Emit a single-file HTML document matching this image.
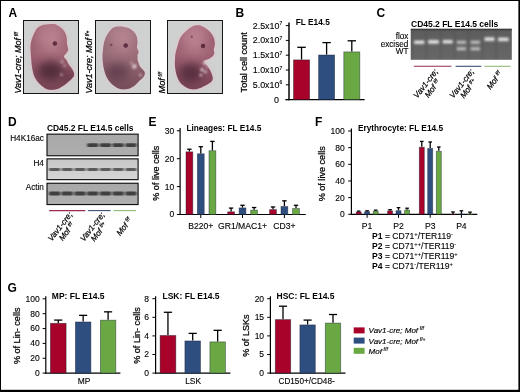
<!DOCTYPE html>
<html><head><meta charset="utf-8"><style>
html,body{margin:0;padding:0;background:#fff;overflow:hidden;width:520px;height:392px;}
svg{display:block;font-family:"Liberation Sans",sans-serif;will-change:transform;}
</style></head><body>
<svg width="520" height="392" viewBox="0 0 520 392" font-family="Liberation Sans, sans-serif"><defs>
<filter id="b1" x="-20%" y="-20%" width="140%" height="140%"><feGaussianBlur stdDeviation="0.9"/></filter>
<filter id="b3" x="-50%" y="-50%" width="200%" height="200%"><feGaussianBlur stdDeviation="4"/></filter>
<filter id="b08" x="-100%" y="-100%" width="300%" height="300%"><feGaussianBlur stdDeviation="0.8"/></filter>
<filter id="b05" x="-100%" y="-100%" width="300%" height="300%"><feGaussianBlur stdDeviation="0.5"/></filter>
<filter id="gelb" x="-30%" y="-200%" width="160%" height="500%"><feGaussianBlur stdDeviation="1.0 0.85"/></filter>
<filter id="band" x="-30%" y="-200%" width="160%" height="500%"><feGaussianBlur stdDeviation="0.8 0.75"/></filter>
<radialGradient id="embg0" cx="0.5" cy="0.28" r="0.8"><stop offset="0" stop-color="#b07884"/><stop offset="0.55" stop-color="#a06474"/><stop offset="1" stop-color="#8c5464"/></radialGradient>
<radialGradient id="embg1" cx="0.5" cy="0.28" r="0.8"><stop offset="0" stop-color="#a87a86"/><stop offset="0.55" stop-color="#9a6e78"/><stop offset="1" stop-color="#8c606e"/></radialGradient>
<radialGradient id="embg2" cx="0.5" cy="0.28" r="0.8"><stop offset="0" stop-color="#b07686"/><stop offset="0.55" stop-color="#a06474"/><stop offset="1" stop-color="#8e5466"/></radialGradient>
<linearGradient id="embshade" gradientUnits="userSpaceOnUse" x1="0" y1="0" x2="0" y2="73"><stop offset="0" stop-color="#ffd8e0" stop-opacity="0.12"/><stop offset="0.42" stop-color="#5a2038" stop-opacity="0"/><stop offset="1" stop-color="#4a2632" stop-opacity="0.4"/></linearGradient>
<linearGradient id="gel" x1="0" y1="0" x2="0" y2="1"><stop offset="0" stop-color="#555"/><stop offset="0.12" stop-color="#5e5e5e"/><stop offset="1" stop-color="#676767"/></linearGradient>
<linearGradient id="bl1" x1="0" y1="0" x2="0" y2="1"><stop offset="0" stop-color="#a9a9a9"/><stop offset="1" stop-color="#adadad"/></linearGradient>
<linearGradient id="bl2" x1="0" y1="0" x2="0" y2="1"><stop offset="0" stop-color="#c6c6c6"/><stop offset="1" stop-color="#d6d6d6"/></linearGradient>
<linearGradient id="bl3" x1="0" y1="0" x2="0" y2="1"><stop offset="0" stop-color="#a8a8a8"/><stop offset="1" stop-color="#b0b0b0"/></linearGradient>
</defs>
<rect x="0" y="0" width="520" height="1" fill="#000"/>
<rect x="0" y="0" width="1" height="392" fill="#000"/>
<rect x="518.4" y="0" width="1.6" height="392" fill="#000"/>
<rect x="0" y="389.8" width="520" height="2.2" fill="#000"/>
<text x="8.4" y="16.6" font-size="12" font-weight="bold" text-anchor="start" fill="#000">A</text>
<text x="235.6" y="16.6" font-size="12" font-weight="bold" text-anchor="start" fill="#000">B</text>
<text x="376.4" y="16.6" font-size="12" font-weight="bold" text-anchor="start" fill="#000">C</text>
<text x="8.1" y="125.8" font-size="12" font-weight="bold" text-anchor="start" fill="#000">D</text>
<text x="148.4" y="125.8" font-size="12" font-weight="bold" text-anchor="start" fill="#000">E</text>
<text x="315.1" y="125.8" font-size="12" font-weight="bold" text-anchor="start" fill="#000">F</text>
<text x="7.5" y="292" font-size="12" font-weight="bold" text-anchor="start" fill="#000">G</text>
<g transform="translate(23 20)">
<rect x="0.5" y="0.5" width="55" height="73" fill="#cfd0d0" stroke="#161616" stroke-width="1.0"/>
<g transform="translate(0.5 0.5) scale(1.0000 1.0069)">
<path d="M22.00,4.00 C24.33,3.68 28.38,3.02 31.00,3.60 C33.62,4.18 35.95,6.13 37.70,7.50 C39.45,8.87 40.58,10.18 41.50,11.80 C42.42,13.42 42.85,15.22 43.20,17.20 C43.55,19.18 43.35,21.73 43.60,23.70 C43.85,25.67 44.80,27.57 44.70,29.00 C44.60,30.43 43.62,31.38 43.00,32.30 C42.38,33.22 41.40,33.80 41.00,34.50 C40.60,35.20 40.27,35.72 40.60,36.50 C40.93,37.28 42.23,38.03 43.00,39.20 C43.77,40.37 44.20,41.88 45.20,43.50 C46.20,45.12 48.10,47.10 49.00,48.90 C49.90,50.70 51.05,52.50 50.60,54.30 C50.15,56.10 47.90,58.08 46.30,59.70 C44.70,61.32 42.97,62.65 41.00,64.00 C39.03,65.35 36.67,67.00 34.50,67.80 C32.33,68.60 30.17,68.90 28.00,68.80 C25.83,68.70 23.65,68.37 21.50,67.20 C19.35,66.03 16.88,63.77 15.10,61.80 C13.32,59.83 11.88,57.90 10.80,55.40 C9.72,52.90 9.13,49.93 8.60,46.80 C8.07,43.67 7.87,39.73 7.60,36.60 C7.33,33.47 7.02,30.52 7.00,28.00 C6.98,25.48 7.05,23.67 7.50,21.50 C7.95,19.33 8.80,17.15 9.70,15.00 C10.60,12.85 11.68,10.18 12.90,8.60 C14.12,7.02 15.48,6.27 17.00,5.50 C18.52,4.73 19.67,4.32 22.00,4.00 Z" fill="none" stroke="#dcc2c8" stroke-width="2.4" filter="url(#b1)"/>
<path d="M22.00,4.00 C24.33,3.68 28.38,3.02 31.00,3.60 C33.62,4.18 35.95,6.13 37.70,7.50 C39.45,8.87 40.58,10.18 41.50,11.80 C42.42,13.42 42.85,15.22 43.20,17.20 C43.55,19.18 43.35,21.73 43.60,23.70 C43.85,25.67 44.80,27.57 44.70,29.00 C44.60,30.43 43.62,31.38 43.00,32.30 C42.38,33.22 41.40,33.80 41.00,34.50 C40.60,35.20 40.27,35.72 40.60,36.50 C40.93,37.28 42.23,38.03 43.00,39.20 C43.77,40.37 44.20,41.88 45.20,43.50 C46.20,45.12 48.10,47.10 49.00,48.90 C49.90,50.70 51.05,52.50 50.60,54.30 C50.15,56.10 47.90,58.08 46.30,59.70 C44.70,61.32 42.97,62.65 41.00,64.00 C39.03,65.35 36.67,67.00 34.50,67.80 C32.33,68.60 30.17,68.90 28.00,68.80 C25.83,68.70 23.65,68.37 21.50,67.20 C19.35,66.03 16.88,63.77 15.10,61.80 C13.32,59.83 11.88,57.90 10.80,55.40 C9.72,52.90 9.13,49.93 8.60,46.80 C8.07,43.67 7.87,39.73 7.60,36.60 C7.33,33.47 7.02,30.52 7.00,28.00 C6.98,25.48 7.05,23.67 7.50,21.50 C7.95,19.33 8.80,17.15 9.70,15.00 C10.60,12.85 11.68,10.18 12.90,8.60 C14.12,7.02 15.48,6.27 17.00,5.50 C18.52,4.73 19.67,4.32 22.00,4.00 Z" fill="url(#embg0)"/>
<clipPath id="ec0"><path d="M22.00,4.00 C24.33,3.68 28.38,3.02 31.00,3.60 C33.62,4.18 35.95,6.13 37.70,7.50 C39.45,8.87 40.58,10.18 41.50,11.80 C42.42,13.42 42.85,15.22 43.20,17.20 C43.55,19.18 43.35,21.73 43.60,23.70 C43.85,25.67 44.80,27.57 44.70,29.00 C44.60,30.43 43.62,31.38 43.00,32.30 C42.38,33.22 41.40,33.80 41.00,34.50 C40.60,35.20 40.27,35.72 40.60,36.50 C40.93,37.28 42.23,38.03 43.00,39.20 C43.77,40.37 44.20,41.88 45.20,43.50 C46.20,45.12 48.10,47.10 49.00,48.90 C49.90,50.70 51.05,52.50 50.60,54.30 C50.15,56.10 47.90,58.08 46.30,59.70 C44.70,61.32 42.97,62.65 41.00,64.00 C39.03,65.35 36.67,67.00 34.50,67.80 C32.33,68.60 30.17,68.90 28.00,68.80 C25.83,68.70 23.65,68.37 21.50,67.20 C19.35,66.03 16.88,63.77 15.10,61.80 C13.32,59.83 11.88,57.90 10.80,55.40 C9.72,52.90 9.13,49.93 8.60,46.80 C8.07,43.67 7.87,39.73 7.60,36.60 C7.33,33.47 7.02,30.52 7.00,28.00 C6.98,25.48 7.05,23.67 7.50,21.50 C7.95,19.33 8.80,17.15 9.70,15.00 C10.60,12.85 11.68,10.18 12.90,8.60 C14.12,7.02 15.48,6.27 17.00,5.50 C18.52,4.73 19.67,4.32 22.00,4.00 Z"/></clipPath>
<g clip-path="url(#ec0)">
<rect x="0" y="0" width="56" height="73" fill="url(#embshade)"/>
<ellipse cx="27" cy="50" rx="13" ry="10" fill="#4a2634" opacity="0.85" filter="url(#b3)"/>
<ellipse cx="44" cy="56" rx="5" ry="5" fill="#4a2634" opacity="0.6" filter="url(#b3)"/>
<ellipse cx="26" cy="17" rx="13" ry="10" fill="#d8a0b0" opacity="0.28" filter="url(#b3)"/>
<circle cx="38.5" cy="41" r="1.6" fill="#f2e2e6" opacity="0.5" filter="url(#b08)"/>
<circle cx="38" cy="53.8" r="1.2" fill="#f2e2e6" opacity="0.7" filter="url(#b08)"/>
<circle cx="41" cy="45" r="1.5" fill="#f2e2e6" opacity="0.4" filter="url(#b08)"/>
</g>
<circle cx="31.4" cy="22.8" r="2.2" fill="#4a1a2e" opacity="0.8" filter="url(#b05)"/>
</g></g>
<g transform="translate(95 20)">
<rect x="0.5" y="0.5" width="55" height="73" fill="#cfd0d0" stroke="#161616" stroke-width="1.0"/>
<g transform="translate(0.5 0.5) scale(1.0000 1.0069)">
<path d="M23.70,5.90 C26.03,5.82 28.95,6.28 31.20,7.00 C33.45,7.72 35.58,8.85 37.20,10.20 C38.82,11.55 40.10,13.22 40.90,15.10 C41.70,16.98 41.90,19.53 42.00,21.50 C42.10,23.47 41.32,25.28 41.50,26.90 C41.68,28.52 43.02,29.93 43.10,31.20 C43.18,32.47 42.15,33.62 42.00,34.50 C41.85,35.38 42.20,35.88 42.20,36.50 C42.20,37.12 41.85,37.20 42.00,38.20 C42.15,39.20 42.57,41.07 43.10,42.50 C43.63,43.93 44.22,45.38 45.20,46.80 C46.18,48.22 48.45,49.57 49.00,51.00 C49.55,52.43 49.30,53.95 48.50,55.40 C47.70,56.85 45.65,58.27 44.20,59.70 C42.75,61.13 41.42,62.75 39.80,64.00 C38.18,65.25 36.47,66.48 34.50,67.20 C32.53,67.92 30.17,68.38 28.00,68.30 C25.83,68.22 23.65,67.78 21.50,66.70 C19.35,65.62 16.88,63.68 15.10,61.80 C13.32,59.92 11.97,57.90 10.80,55.40 C9.63,52.90 8.73,49.93 8.10,46.80 C7.47,43.67 7.10,39.57 7.00,36.60 C6.90,33.63 7.23,31.52 7.50,29.00 C7.77,26.48 7.88,24.00 8.60,21.50 C9.32,19.00 10.37,16.33 11.80,14.00 C13.23,11.67 15.22,8.85 17.20,7.50 C19.18,6.15 21.37,5.98 23.70,5.90 Z" fill="none" stroke="#dccad0" stroke-width="2.4" filter="url(#b1)"/>
<path d="M23.70,5.90 C26.03,5.82 28.95,6.28 31.20,7.00 C33.45,7.72 35.58,8.85 37.20,10.20 C38.82,11.55 40.10,13.22 40.90,15.10 C41.70,16.98 41.90,19.53 42.00,21.50 C42.10,23.47 41.32,25.28 41.50,26.90 C41.68,28.52 43.02,29.93 43.10,31.20 C43.18,32.47 42.15,33.62 42.00,34.50 C41.85,35.38 42.20,35.88 42.20,36.50 C42.20,37.12 41.85,37.20 42.00,38.20 C42.15,39.20 42.57,41.07 43.10,42.50 C43.63,43.93 44.22,45.38 45.20,46.80 C46.18,48.22 48.45,49.57 49.00,51.00 C49.55,52.43 49.30,53.95 48.50,55.40 C47.70,56.85 45.65,58.27 44.20,59.70 C42.75,61.13 41.42,62.75 39.80,64.00 C38.18,65.25 36.47,66.48 34.50,67.20 C32.53,67.92 30.17,68.38 28.00,68.30 C25.83,68.22 23.65,67.78 21.50,66.70 C19.35,65.62 16.88,63.68 15.10,61.80 C13.32,59.92 11.97,57.90 10.80,55.40 C9.63,52.90 8.73,49.93 8.10,46.80 C7.47,43.67 7.10,39.57 7.00,36.60 C6.90,33.63 7.23,31.52 7.50,29.00 C7.77,26.48 7.88,24.00 8.60,21.50 C9.32,19.00 10.37,16.33 11.80,14.00 C13.23,11.67 15.22,8.85 17.20,7.50 C19.18,6.15 21.37,5.98 23.70,5.90 Z" fill="url(#embg1)"/>
<clipPath id="ec1"><path d="M23.70,5.90 C26.03,5.82 28.95,6.28 31.20,7.00 C33.45,7.72 35.58,8.85 37.20,10.20 C38.82,11.55 40.10,13.22 40.90,15.10 C41.70,16.98 41.90,19.53 42.00,21.50 C42.10,23.47 41.32,25.28 41.50,26.90 C41.68,28.52 43.02,29.93 43.10,31.20 C43.18,32.47 42.15,33.62 42.00,34.50 C41.85,35.38 42.20,35.88 42.20,36.50 C42.20,37.12 41.85,37.20 42.00,38.20 C42.15,39.20 42.57,41.07 43.10,42.50 C43.63,43.93 44.22,45.38 45.20,46.80 C46.18,48.22 48.45,49.57 49.00,51.00 C49.55,52.43 49.30,53.95 48.50,55.40 C47.70,56.85 45.65,58.27 44.20,59.70 C42.75,61.13 41.42,62.75 39.80,64.00 C38.18,65.25 36.47,66.48 34.50,67.20 C32.53,67.92 30.17,68.38 28.00,68.30 C25.83,68.22 23.65,67.78 21.50,66.70 C19.35,65.62 16.88,63.68 15.10,61.80 C13.32,59.92 11.97,57.90 10.80,55.40 C9.63,52.90 8.73,49.93 8.10,46.80 C7.47,43.67 7.10,39.57 7.00,36.60 C6.90,33.63 7.23,31.52 7.50,29.00 C7.77,26.48 7.88,24.00 8.60,21.50 C9.32,19.00 10.37,16.33 11.80,14.00 C13.23,11.67 15.22,8.85 17.20,7.50 C19.18,6.15 21.37,5.98 23.70,5.90 Z"/></clipPath>
<g clip-path="url(#ec1)">
<rect x="0" y="0" width="56" height="73" fill="url(#embshade)"/>
<ellipse cx="22" cy="51" rx="12" ry="9" fill="#58384a" opacity="0.7" filter="url(#b3)"/>
<ellipse cx="26" cy="17" rx="13" ry="10" fill="#d8a0b0" opacity="0.28" filter="url(#b3)"/>
<circle cx="38.8" cy="45.7" r="2.4" fill="#f2e2e6" opacity="0.7" filter="url(#b08)"/>
<circle cx="45" cy="54.3" r="1.6" fill="#f2e2e6" opacity="0.5" filter="url(#b08)"/>
<circle cx="36" cy="42" r="1.5" fill="#f2e2e6" opacity="0.4" filter="url(#b08)"/>
</g>
<circle cx="30.2" cy="24.8" r="2.2" fill="#4a1a2e" opacity="0.8" filter="url(#b05)"/>
<circle cx="15.6" cy="24.2" r="1.4" fill="#4a1a2e" opacity="0.45" filter="url(#b05)"/>
</g></g>
<g transform="translate(167 20)">
<rect x="0.5" y="0.5" width="55" height="73" fill="#cfd0d0" stroke="#161616" stroke-width="1.0"/>
<g transform="translate(0.5 0.5) scale(1.0000 1.0069)">
<path d="M24.80,5.90 C26.95,4.90 29.05,4.53 31.20,4.80 C33.35,5.07 35.72,6.33 37.70,7.50 C39.68,8.67 41.67,10.18 43.10,11.80 C44.53,13.42 45.58,15.22 46.30,17.20 C47.02,19.18 47.40,21.73 47.40,23.70 C47.40,25.67 46.40,27.57 46.30,29.00 C46.20,30.43 46.98,31.22 46.80,32.30 C46.62,33.38 46.17,34.50 45.20,35.50 C44.23,36.50 42.45,37.45 41.00,38.30 C39.55,39.15 36.67,39.45 36.50,40.60 C36.33,41.75 38.82,43.38 40.00,45.20 C41.18,47.02 42.73,49.27 43.60,51.50 C44.47,53.73 45.65,56.70 45.20,58.60 C44.75,60.50 42.68,61.63 40.90,62.90 C39.12,64.17 36.83,65.30 34.50,66.20 C32.17,67.10 29.42,68.22 26.90,68.30 C24.38,68.38 21.73,67.78 19.40,66.70 C17.07,65.62 14.60,63.87 12.90,61.80 C11.20,59.73 10.10,56.98 9.20,54.30 C8.30,51.62 7.78,48.38 7.50,45.70 C7.22,43.02 7.40,40.43 7.50,38.20 C7.60,35.97 7.65,34.53 8.10,32.30 C8.55,30.07 9.40,27.32 10.20,24.80 C11.00,22.28 11.55,19.53 12.90,17.20 C14.25,14.87 16.32,12.68 18.30,10.80 C20.28,8.92 22.65,6.90 24.80,5.90 Z" fill="none" stroke="#e0c6ce" stroke-width="2.4" filter="url(#b1)"/>
<path d="M24.80,5.90 C26.95,4.90 29.05,4.53 31.20,4.80 C33.35,5.07 35.72,6.33 37.70,7.50 C39.68,8.67 41.67,10.18 43.10,11.80 C44.53,13.42 45.58,15.22 46.30,17.20 C47.02,19.18 47.40,21.73 47.40,23.70 C47.40,25.67 46.40,27.57 46.30,29.00 C46.20,30.43 46.98,31.22 46.80,32.30 C46.62,33.38 46.17,34.50 45.20,35.50 C44.23,36.50 42.45,37.45 41.00,38.30 C39.55,39.15 36.67,39.45 36.50,40.60 C36.33,41.75 38.82,43.38 40.00,45.20 C41.18,47.02 42.73,49.27 43.60,51.50 C44.47,53.73 45.65,56.70 45.20,58.60 C44.75,60.50 42.68,61.63 40.90,62.90 C39.12,64.17 36.83,65.30 34.50,66.20 C32.17,67.10 29.42,68.22 26.90,68.30 C24.38,68.38 21.73,67.78 19.40,66.70 C17.07,65.62 14.60,63.87 12.90,61.80 C11.20,59.73 10.10,56.98 9.20,54.30 C8.30,51.62 7.78,48.38 7.50,45.70 C7.22,43.02 7.40,40.43 7.50,38.20 C7.60,35.97 7.65,34.53 8.10,32.30 C8.55,30.07 9.40,27.32 10.20,24.80 C11.00,22.28 11.55,19.53 12.90,17.20 C14.25,14.87 16.32,12.68 18.30,10.80 C20.28,8.92 22.65,6.90 24.80,5.90 Z" fill="url(#embg2)"/>
<clipPath id="ec2"><path d="M24.80,5.90 C26.95,4.90 29.05,4.53 31.20,4.80 C33.35,5.07 35.72,6.33 37.70,7.50 C39.68,8.67 41.67,10.18 43.10,11.80 C44.53,13.42 45.58,15.22 46.30,17.20 C47.02,19.18 47.40,21.73 47.40,23.70 C47.40,25.67 46.40,27.57 46.30,29.00 C46.20,30.43 46.98,31.22 46.80,32.30 C46.62,33.38 46.17,34.50 45.20,35.50 C44.23,36.50 42.45,37.45 41.00,38.30 C39.55,39.15 36.67,39.45 36.50,40.60 C36.33,41.75 38.82,43.38 40.00,45.20 C41.18,47.02 42.73,49.27 43.60,51.50 C44.47,53.73 45.65,56.70 45.20,58.60 C44.75,60.50 42.68,61.63 40.90,62.90 C39.12,64.17 36.83,65.30 34.50,66.20 C32.17,67.10 29.42,68.22 26.90,68.30 C24.38,68.38 21.73,67.78 19.40,66.70 C17.07,65.62 14.60,63.87 12.90,61.80 C11.20,59.73 10.10,56.98 9.20,54.30 C8.30,51.62 7.78,48.38 7.50,45.70 C7.22,43.02 7.40,40.43 7.50,38.20 C7.60,35.97 7.65,34.53 8.10,32.30 C8.55,30.07 9.40,27.32 10.20,24.80 C11.00,22.28 11.55,19.53 12.90,17.20 C14.25,14.87 16.32,12.68 18.30,10.80 C20.28,8.92 22.65,6.90 24.80,5.90 Z"/></clipPath>
<g clip-path="url(#ec2)">
<rect x="0" y="0" width="56" height="73" fill="url(#embshade)"/>
<ellipse cx="23.5" cy="52" rx="12" ry="10" fill="#4e2838" opacity="0.8" filter="url(#b3)"/>
<ellipse cx="26" cy="17" rx="13" ry="10" fill="#d8a0b0" opacity="0.28" filter="url(#b3)"/>
<circle cx="34.5" cy="48.9" r="1.7" fill="#f2e2e6" opacity="0.85" filter="url(#b08)"/>
<circle cx="33.4" cy="54.3" r="1.4" fill="#f2e2e6" opacity="0.75" filter="url(#b08)"/>
<circle cx="37.7" cy="51" r="1.5" fill="#f2e2e6" opacity="0.75" filter="url(#b08)"/>
<circle cx="37.5" cy="42.2" r="2.0" fill="#f2e2e6" opacity="0.8" filter="url(#b08)"/>
<circle cx="40" cy="46" r="1.4" fill="#f2e2e6" opacity="0.6" filter="url(#b08)"/>
</g>
<circle cx="35.5" cy="25.3" r="2.2" fill="#4a1a2e" opacity="0.8" filter="url(#b05)"/>
<circle cx="24.2" cy="16.2" r="1.2" fill="#4a1a2e" opacity="0.45" filter="url(#b05)"/>
</g></g>
<text x="20.8" y="93.6" font-size="9" font-style="italic" text-anchor="start" fill="#000" transform="rotate(-90 20.8 93.6)" stroke="#000" stroke-width="0.25">Vav1-cre; Mof<tspan font-size="6"> </tspan><tspan baseline-shift="3.2" font-size="4.8">f/f</tspan></text>
<text x="92.0" y="93.6" font-size="9" font-style="italic" text-anchor="start" fill="#000" transform="rotate(-90 92.0 93.6)" stroke="#000" stroke-width="0.25">Vav1-cre; Mof<tspan font-size="6"> </tspan><tspan baseline-shift="3.2" font-size="4.8">f/+</tspan></text>
<text x="165.0" y="93.6" font-size="9.3" font-style="italic" text-anchor="start" fill="#000" transform="rotate(-90 165.0 93.6)" stroke="#000" stroke-width="0.25">Mof<tspan font-size="6"> </tspan><tspan baseline-shift="3.2" font-size="5.2">f/f</tspan></text>
<line x1="289.0" y1="22.599999999999994" x2="289.0" y2="100.19999999999999" stroke="#000" stroke-width="1.45"/>
<line x1="285.8" y1="99.6" x2="289.0" y2="99.6" stroke="#000" stroke-width="1.0"/>
<line x1="285.8" y1="84.8" x2="289.0" y2="84.8" stroke="#000" stroke-width="1.0"/>
<line x1="285.8" y1="70.0" x2="289.0" y2="70.0" stroke="#000" stroke-width="1.0"/>
<line x1="285.8" y1="55.19999999999999" x2="289.0" y2="55.19999999999999" stroke="#000" stroke-width="1.0"/>
<line x1="285.8" y1="40.39999999999999" x2="289.0" y2="40.39999999999999" stroke="#000" stroke-width="1.0"/>
<line x1="285.8" y1="25.599999999999994" x2="289.0" y2="25.599999999999994" stroke="#000" stroke-width="1.0"/>
<text x="279.0" y="102.6" font-size="8.9" text-anchor="end" fill="#000" stroke="#000" stroke-width="0.12">0</text>
<text x="279.4" y="87.8" font-size="8.9" text-anchor="end" fill="#000" stroke="#000" stroke-width="0.12">5.0x10</text>
<text x="279.6" y="84.3" font-size="5.0" text-anchor="start" fill="#000" stroke="#000" stroke-width="0.12">6</text>
<text x="279.4" y="73.0" font-size="8.9" text-anchor="end" fill="#000" stroke="#000" stroke-width="0.12">1.0x10</text>
<text x="279.6" y="69.5" font-size="5.0" text-anchor="start" fill="#000" stroke="#000" stroke-width="0.12">7</text>
<text x="279.4" y="58.2" font-size="8.9" text-anchor="end" fill="#000" stroke="#000" stroke-width="0.12">1.5x10</text>
<text x="279.6" y="54.7" font-size="5.0" text-anchor="start" fill="#000" stroke="#000" stroke-width="0.12">7</text>
<text x="279.4" y="43.4" font-size="8.9" text-anchor="end" fill="#000" stroke="#000" stroke-width="0.12">2.0x10</text>
<text x="279.6" y="39.9" font-size="5.0" text-anchor="start" fill="#000" stroke="#000" stroke-width="0.12">7</text>
<text x="279.4" y="28.6" font-size="8.9" text-anchor="end" fill="#000" stroke="#000" stroke-width="0.12">2.5x10</text>
<text x="279.6" y="25.1" font-size="5.0" text-anchor="start" fill="#000" stroke="#000" stroke-width="0.12">7</text>
<line x1="285.4" y1="99.6" x2="364.6" y2="99.6" stroke="#000" stroke-width="1.45"/>
<rect x="293.50" y="59.90" width="16.10" height="39.70" fill="#a8022b" stroke="#101828" stroke-opacity="0.5" stroke-width="0.8"/>
<line x1="301.55" y1="59.5" x2="301.55" y2="47.3" stroke="#000" stroke-width="1.3"/>
<line x1="297.32500000000005" y1="47.3" x2="305.775" y2="47.3" stroke="#000" stroke-width="1.3"/>
<rect x="318.60" y="55.00" width="16.00" height="44.60" fill="#2f4e80" stroke="#101828" stroke-opacity="0.5" stroke-width="0.8"/>
<line x1="326.6" y1="54.6" x2="326.6" y2="42.6" stroke="#000" stroke-width="1.3"/>
<line x1="322.40000000000003" y1="42.6" x2="330.8" y2="42.6" stroke="#000" stroke-width="1.3"/>
<rect x="343.80" y="51.90" width="16.00" height="47.70" fill="#6aa844" stroke="#101828" stroke-opacity="0.5" stroke-width="0.8"/>
<line x1="351.79999999999995" y1="51.5" x2="351.79999999999995" y2="40.8" stroke="#000" stroke-width="1.3"/>
<line x1="347.59999999999997" y1="40.8" x2="355.99999999999994" y2="40.8" stroke="#000" stroke-width="1.3"/>
<text x="295.8" y="25.2" font-size="8.3" font-weight="bold" text-anchor="start" fill="#000">FL E14.5</text>
<text x="247.4" y="62.3" font-size="9.1" text-anchor="middle" fill="#000" transform="rotate(-90 247.4 62.3)" stroke="#000" stroke-width="0.25">Total cell count</text>
<text x="411.0" y="26.7" font-size="8.5" font-weight="bold" text-anchor="start" fill="#000">CD45.2 FL E14.5 cells</text>
<rect x="410.8" y="28.8" width="101" height="31" fill="url(#gel)"/>
<rect x="410.8" y="28.8" width="101" height="1.4" fill="#3c3c3c"/>
<g filter="url(#band)" opacity="0.5">
<rect x="411.6" y="30.4" width="1.2" height="29" fill="#4e4e4e"/>
<rect x="425.6" y="30.4" width="1.2" height="29" fill="#4e4e4e"/>
<rect x="440.2" y="30.4" width="1.2" height="29" fill="#4e4e4e"/>
<rect x="454.1" y="30.4" width="1.2" height="29" fill="#4e4e4e"/>
<rect x="468.0" y="30.4" width="1.2" height="29" fill="#4e4e4e"/>
<rect x="482.0" y="30.4" width="1.2" height="29" fill="#4e4e4e"/>
<rect x="495.6" y="30.4" width="1.2" height="29" fill="#4e4e4e"/>
</g>
<g filter="url(#gelb)">
<rect x="413.5" y="40.0" width="11.499999999999977" height="4.6" rx="1.5" fill="#a8a8a8" opacity="0.70"/>
<rect x="414.40000000000003" y="41.0" width="9.699999999999978" height="2.6" rx="1" fill="#e6e6e6" opacity="1.00"/>
<rect x="427.5" y="39.6" width="11.999999999999977" height="4.6" rx="1.5" fill="#a8a8a8" opacity="0.70"/>
<rect x="428.40000000000003" y="40.6" width="10.199999999999978" height="2.6" rx="1" fill="#e6e6e6" opacity="1.00"/>
<rect x="442.09999999999997" y="39.400000000000006" width="11.200000000000022" height="4.6" rx="1.5" fill="#a8a8a8" opacity="0.70"/>
<rect x="443.0" y="40.400000000000006" width="9.400000000000023" height="2.6" rx="1" fill="#e6e6e6" opacity="1.00"/>
<rect x="456.0" y="39.900000000000006" width="10.699999999999966" height="4.6" rx="1.5" fill="#a8a8a8" opacity="0.42"/>
<rect x="456.90000000000003" y="40.900000000000006" width="8.899999999999967" height="2.6" rx="1" fill="#e6e6e6" opacity="0.60"/>
<rect x="456.0" y="46.400000000000006" width="10.699999999999966" height="4.6" rx="1.5" fill="#a8a8a8" opacity="0.42"/>
<rect x="456.90000000000003" y="47.400000000000006" width="8.899999999999967" height="2.6" rx="1" fill="#e6e6e6" opacity="0.60"/>
<rect x="469.9" y="39.900000000000006" width="10.799999999999988" height="4.6" rx="1.5" fill="#a8a8a8" opacity="0.42"/>
<rect x="470.8" y="40.900000000000006" width="8.99999999999999" height="2.6" rx="1" fill="#e6e6e6" opacity="0.60"/>
<rect x="469.9" y="46.5" width="10.799999999999988" height="4.6" rx="1.5" fill="#a8a8a8" opacity="0.42"/>
<rect x="470.8" y="47.5" width="8.99999999999999" height="2.6" rx="1" fill="#e6e6e6" opacity="0.60"/>
<rect x="483.9" y="36.800000000000004" width="11.200000000000022" height="4.6" rx="1.5" fill="#a8a8a8" opacity="0.70"/>
<rect x="484.8" y="37.800000000000004" width="9.400000000000023" height="2.6" rx="1" fill="#e6e6e6" opacity="1.00"/>
<rect x="497.5" y="37.1" width="11.699999999999966" height="4.6" rx="1.5" fill="#a8a8a8" opacity="0.66"/>
<rect x="498.40000000000003" y="38.1" width="9.899999999999967" height="2.6" rx="1" fill="#e6e6e6" opacity="0.95"/>
</g>
<text x="408.4" y="38.8" font-size="8.2" text-anchor="end" fill="#000" stroke="#000" stroke-width="0.12">flox</text>
<text x="408.4" y="46.6" font-size="8.2" text-anchor="end" fill="#000" stroke="#000" stroke-width="0.12">excised</text>
<text x="408.4" y="54.2" font-size="8.2" text-anchor="end" fill="#000" stroke="#000" stroke-width="0.12">WT</text>
<line x1="413.8" y1="66.3" x2="451.4" y2="66.3" stroke="#9a2a4a" stroke-width="1.1"/>
<line x1="455.6" y1="66.3" x2="481.3" y2="66.3" stroke="#3c4e74" stroke-width="1.1"/>
<line x1="484.4" y1="66.3" x2="510.6" y2="66.3" stroke="#90b874" stroke-width="1.1"/>
<g transform="translate(427.9 85.2) rotate(-52)">
<text x="0" y="0.00" font-size="8.1" font-style="italic" text-anchor="middle" stroke="#000" stroke-width="0.22">Vav1-cre;</text>
<text x="0" y="8.40" font-size="8.1" font-style="italic" text-anchor="middle" stroke="#000" stroke-width="0.22">Mof <tspan baseline-shift="3" font-size="5">f/f</tspan></text>
</g>
<g transform="translate(463.9 85.2) rotate(-52)">
<text x="0" y="0.00" font-size="8.1" font-style="italic" text-anchor="middle" stroke="#000" stroke-width="0.22">Vav1-cre;</text>
<text x="0" y="8.40" font-size="8.1" font-style="italic" text-anchor="middle" stroke="#000" stroke-width="0.22">Mof <tspan baseline-shift="3" font-size="5">f/+</tspan></text>
</g>
<g transform="translate(490.41 90.04) rotate(-52)"><text x="0" y="0" font-size="8.1" font-style="italic" stroke="#000" stroke-width="0.22">Mof <tspan baseline-shift="3" font-size="5">f/f</tspan></text></g>
<text x="46.9" y="131.2" font-size="8.45" font-weight="bold" text-anchor="start" fill="#000">CD45.2 FL E14.5 cells</text>
<rect x="47.0" y="134.15" width="91.1" height="21.600000000000016" fill="url(#bl1)" stroke="#111" stroke-width="1.15"/>
<rect x="47.0" y="158.85000000000002" width="91.1" height="20.799999999999976" fill="url(#bl2)" stroke="#111" stroke-width="1.15"/>
<rect x="47.0" y="183.25" width="91.1" height="21.300000000000004" fill="url(#bl3)" stroke="#111" stroke-width="1.15"/>
<g filter="url(#band)">
<rect x="49.0" y="168.1" width="11.2" height="2.9" rx="1.1" fill="#505050" opacity="0.9"/>
<rect x="49.0" y="191.4" width="11.2" height="4.0" rx="1.2" fill="#363636" opacity="0.92"/>
<rect x="61.6" y="168.1" width="11.2" height="2.9" rx="1.1" fill="#505050" opacity="0.9"/>
<rect x="61.6" y="191.4" width="11.2" height="4.0" rx="1.2" fill="#363636" opacity="0.92"/>
<rect x="74.4" y="168.1" width="11.2" height="2.9" rx="1.1" fill="#505050" opacity="0.9"/>
<rect x="74.4" y="191.4" width="11.2" height="4.0" rx="1.2" fill="#363636" opacity="0.92"/>
<rect x="87.10000000000001" y="143.2" width="11.2" height="3.8" rx="1.2" fill="#383838" opacity="0.92"/>
<rect x="87.10000000000001" y="168.1" width="11.2" height="2.9" rx="1.1" fill="#505050" opacity="0.9"/>
<rect x="87.10000000000001" y="191.4" width="11.2" height="4.0" rx="1.2" fill="#363636" opacity="0.92"/>
<rect x="99.9" y="143.2" width="11.2" height="3.8" rx="1.2" fill="#383838" opacity="0.92"/>
<rect x="99.9" y="168.1" width="11.2" height="2.9" rx="1.1" fill="#505050" opacity="0.9"/>
<rect x="99.9" y="191.4" width="11.2" height="4.0" rx="1.2" fill="#363636" opacity="0.92"/>
<rect x="112.60000000000001" y="143.2" width="11.2" height="3.8" rx="1.2" fill="#383838" opacity="0.92"/>
<rect x="112.60000000000001" y="168.1" width="11.2" height="2.9" rx="1.1" fill="#505050" opacity="0.9"/>
<rect x="112.60000000000001" y="191.4" width="11.2" height="4.0" rx="1.2" fill="#363636" opacity="0.92"/>
<rect x="125.4" y="143.2" width="11.2" height="3.8" rx="1.2" fill="#383838" opacity="0.92"/>
<rect x="125.4" y="168.1" width="11.2" height="2.9" rx="1.1" fill="#505050" opacity="0.9"/>
<rect x="125.4" y="191.4" width="11.2" height="4.0" rx="1.2" fill="#363636" opacity="0.92"/>
</g>
<text x="43.9" y="141.4" font-size="8.2" text-anchor="end" fill="#000" stroke="#000" stroke-width="0.12">H4K16ac</text>
<text x="43.9" y="165.5" font-size="8.2" text-anchor="end" fill="#000" stroke="#000" stroke-width="0.12">H4</text>
<text x="43.9" y="190.0" font-size="8.2" text-anchor="end" fill="#000" stroke="#000" stroke-width="0.12">Actin</text>
<line x1="49.2" y1="210.6" x2="85.3" y2="210.6" stroke="#9a2a4a" stroke-width="1.1"/>
<line x1="88.1" y1="210.6" x2="110.6" y2="210.6" stroke="#3c4e74" stroke-width="1.1"/>
<line x1="113.5" y1="210.6" x2="136" y2="210.6" stroke="#90b874" stroke-width="1.1"/>
<g transform="translate(62.2 228.3) rotate(-52)">
<text x="0" y="0.00" font-size="8.1" font-style="italic" text-anchor="middle" stroke="#000" stroke-width="0.22">Vav1-cre;</text>
<text x="0" y="8.40" font-size="8.1" font-style="italic" text-anchor="middle" stroke="#000" stroke-width="0.22">Mof <tspan baseline-shift="3" font-size="5">f/f</tspan></text>
</g>
<g transform="translate(94.5 228.5) rotate(-52)">
<text x="0" y="0.00" font-size="8.1" font-style="italic" text-anchor="middle" stroke="#000" stroke-width="0.22">Vav1-cre;</text>
<text x="0" y="8.40" font-size="8.1" font-style="italic" text-anchor="middle" stroke="#000" stroke-width="0.22">Mof <tspan baseline-shift="3" font-size="5">f/+</tspan></text>
</g>
<g transform="translate(120.21 236.24) rotate(-52)"><text x="0" y="0" font-size="8.1" font-style="italic" stroke="#000" stroke-width="0.22">Mof <tspan baseline-shift="3" font-size="5">f/f</tspan></text></g>
<line x1="180.1" y1="128" x2="180.1" y2="215.1" stroke="#000" stroke-width="1.2"/>
<line x1="176.9" y1="214.5" x2="180.1" y2="214.5" stroke="#000" stroke-width="1.0"/>
<text x="174.2" y="217.4" font-size="8.5" text-anchor="end" fill="#000" stroke="#000" stroke-width="0.12">0</text>
<line x1="176.9" y1="186.6" x2="180.1" y2="186.6" stroke="#000" stroke-width="1.0"/>
<text x="174.2" y="189.5" font-size="8.5" text-anchor="end" fill="#000" stroke="#000" stroke-width="0.12">10</text>
<line x1="176.9" y1="158.7" x2="180.1" y2="158.7" stroke="#000" stroke-width="1.0"/>
<text x="174.2" y="161.6" font-size="8.5" text-anchor="end" fill="#000" stroke="#000" stroke-width="0.12">20</text>
<line x1="176.9" y1="130.8" x2="180.1" y2="130.8" stroke="#000" stroke-width="1.0"/>
<text x="174.2" y="133.7" font-size="8.5" text-anchor="end" fill="#000" stroke="#000" stroke-width="0.12">30</text>
<line x1="179.5" y1="214.5" x2="305.8" y2="214.5" stroke="#000" stroke-width="1.2"/>
<line x1="200.8" y1="214.5" x2="200.8" y2="218.0" stroke="#000" stroke-width="1.0"/>
<line x1="242.5" y1="214.5" x2="242.5" y2="218.0" stroke="#000" stroke-width="1.0"/>
<line x1="284.4" y1="214.5" x2="284.4" y2="218.0" stroke="#000" stroke-width="1.0"/>
<rect x="186.00" y="151.85" width="6.80" height="62.65" fill="#a8022b" stroke="#101828" stroke-opacity="0.5" stroke-width="0.8"/>
<line x1="189.4" y1="151.446" x2="189.4" y2="149.214" stroke="#000" stroke-width="1.3"/>
<line x1="187.20000000000002" y1="149.214" x2="191.6" y2="149.214" stroke="#000" stroke-width="1.3"/>
<rect x="197.40" y="153.80" width="6.80" height="60.70" fill="#2f4e80" stroke="#101828" stroke-opacity="0.5" stroke-width="0.8"/>
<line x1="200.8" y1="153.399" x2="200.8" y2="146.703" stroke="#000" stroke-width="1.3"/>
<line x1="198.60000000000002" y1="146.703" x2="203.0" y2="146.703" stroke="#000" stroke-width="1.3"/>
<rect x="209.00" y="150.73" width="6.80" height="63.77" fill="#6aa844" stroke="#101828" stroke-opacity="0.5" stroke-width="0.8"/>
<line x1="212.4" y1="150.33" x2="212.4" y2="141.40200000000002" stroke="#000" stroke-width="1.3"/>
<line x1="210.20000000000002" y1="141.40200000000002" x2="214.6" y2="141.40200000000002" stroke="#000" stroke-width="1.3"/>
<rect x="227.70" y="211.83" width="6.80" height="2.67" fill="#a8022b" stroke="#101828" stroke-opacity="0.5" stroke-width="0.8"/>
<line x1="231.1" y1="211.431" x2="231.1" y2="208.083" stroke="#000" stroke-width="1.3"/>
<line x1="228.9" y1="208.083" x2="233.29999999999998" y2="208.083" stroke="#000" stroke-width="1.3"/>
<rect x="239.10" y="207.93" width="6.80" height="6.57" fill="#2f4e80" stroke="#101828" stroke-opacity="0.5" stroke-width="0.8"/>
<line x1="242.5" y1="207.525" x2="242.5" y2="205.293" stroke="#000" stroke-width="1.3"/>
<line x1="240.3" y1="205.293" x2="244.7" y2="205.293" stroke="#000" stroke-width="1.3"/>
<rect x="250.70" y="210.16" width="6.80" height="4.34" fill="#6aa844" stroke="#101828" stroke-opacity="0.5" stroke-width="0.8"/>
<line x1="254.09999999999997" y1="209.757" x2="254.09999999999997" y2="207.525" stroke="#000" stroke-width="1.3"/>
<line x1="251.89999999999998" y1="207.525" x2="256.29999999999995" y2="207.525" stroke="#000" stroke-width="1.3"/>
<rect x="269.60" y="209.60" width="6.80" height="4.90" fill="#a8022b" stroke="#101828" stroke-opacity="0.5" stroke-width="0.8"/>
<line x1="273.0" y1="209.199" x2="273.0" y2="206.967" stroke="#000" stroke-width="1.3"/>
<line x1="270.8" y1="206.967" x2="275.2" y2="206.967" stroke="#000" stroke-width="1.3"/>
<rect x="281.00" y="206.53" width="6.80" height="7.97" fill="#2f4e80" stroke="#101828" stroke-opacity="0.5" stroke-width="0.8"/>
<line x1="284.4" y1="206.13" x2="284.4" y2="200.829" stroke="#000" stroke-width="1.3"/>
<line x1="282.2" y1="200.829" x2="286.59999999999997" y2="200.829" stroke="#000" stroke-width="1.3"/>
<rect x="292.60" y="208.48" width="6.80" height="6.02" fill="#6aa844" stroke="#101828" stroke-opacity="0.5" stroke-width="0.8"/>
<line x1="296.0" y1="208.083" x2="296.0" y2="205.293" stroke="#000" stroke-width="1.3"/>
<line x1="293.8" y1="205.293" x2="298.2" y2="205.293" stroke="#000" stroke-width="1.3"/>
<text x="200.8" y="229.2" font-size="8.6" text-anchor="middle" fill="#000" stroke="#000" stroke-width="0.12">B220+</text>
<text x="242.5" y="229.2" font-size="8.6" text-anchor="middle" fill="#000" stroke="#000" stroke-width="0.12">GR1/MAC1+</text>
<text x="284.4" y="229.2" font-size="8.6" text-anchor="middle" fill="#000" stroke="#000" stroke-width="0.12">CD3+</text>
<text x="186.4" y="131.3" font-size="8.3" font-weight="bold" text-anchor="start" fill="#000">Lineages: FL E14.5</text>
<text x="159.3" y="173.2" font-size="9.1" text-anchor="middle" fill="#000" transform="rotate(-90 159.3 173.2)" stroke="#000" stroke-width="0.25">% of live cells</text>
<line x1="351.4" y1="128.5" x2="351.4" y2="214.9" stroke="#000" stroke-width="1.2"/>
<line x1="348.2" y1="214.3" x2="351.4" y2="214.3" stroke="#000" stroke-width="1.0"/>
<text x="344.8" y="217.2" font-size="8.5" text-anchor="end" fill="#000" stroke="#000" stroke-width="0.12">0</text>
<line x1="348.2" y1="197.64000000000001" x2="351.4" y2="197.64000000000001" stroke="#000" stroke-width="1.0"/>
<text x="344.8" y="200.54" font-size="8.5" text-anchor="end" fill="#000" stroke="#000" stroke-width="0.12">20</text>
<line x1="348.2" y1="180.98000000000002" x2="351.4" y2="180.98000000000002" stroke="#000" stroke-width="1.0"/>
<text x="344.8" y="183.88" font-size="8.5" text-anchor="end" fill="#000" stroke="#000" stroke-width="0.12">40</text>
<line x1="348.2" y1="164.32" x2="351.4" y2="164.32" stroke="#000" stroke-width="1.0"/>
<text x="344.8" y="167.22" font-size="8.5" text-anchor="end" fill="#000" stroke="#000" stroke-width="0.12">60</text>
<line x1="348.2" y1="147.66000000000003" x2="351.4" y2="147.66000000000003" stroke="#000" stroke-width="1.0"/>
<text x="344.8" y="150.56" font-size="8.5" text-anchor="end" fill="#000" stroke="#000" stroke-width="0.12">80</text>
<line x1="348.2" y1="131.0" x2="351.4" y2="131.0" stroke="#000" stroke-width="1.0"/>
<text x="344.8" y="133.9" font-size="8.5" text-anchor="end" fill="#000" stroke="#000" stroke-width="0.12">100</text>
<line x1="350.79999999999995" y1="214.3" x2="477.3" y2="214.3" stroke="#000" stroke-width="1.2"/>
<line x1="367.1" y1="214.3" x2="367.1" y2="217.8" stroke="#000" stroke-width="1.0"/>
<line x1="398.5" y1="214.3" x2="398.5" y2="217.8" stroke="#000" stroke-width="1.0"/>
<line x1="430.2" y1="214.3" x2="430.2" y2="217.8" stroke="#000" stroke-width="1.0"/>
<line x1="461.4" y1="214.3" x2="461.4" y2="217.8" stroke="#000" stroke-width="1.0"/>
<rect x="356.20" y="212.03" width="5.00" height="2.27" fill="#a8022b" stroke="#101828" stroke-opacity="0.5" stroke-width="0.8"/>
<line x1="358.70000000000005" y1="211.6344" x2="358.70000000000005" y2="211.1346" stroke="#000" stroke-width="1.3"/>
<line x1="356.90000000000003" y1="211.1346" x2="360.50000000000006" y2="211.1346" stroke="#000" stroke-width="1.3"/>
<rect x="364.60" y="211.70" width="5.00" height="2.60" fill="#2f4e80" stroke="#101828" stroke-opacity="0.5" stroke-width="0.8"/>
<line x1="367.1" y1="211.30120000000002" x2="367.1" y2="210.8014" stroke="#000" stroke-width="1.3"/>
<line x1="365.3" y1="210.8014" x2="368.90000000000003" y2="210.8014" stroke="#000" stroke-width="1.3"/>
<rect x="373.20" y="211.20" width="5.00" height="3.10" fill="#6aa844" stroke="#101828" stroke-opacity="0.5" stroke-width="0.8"/>
<line x1="375.70000000000005" y1="210.8014" x2="375.70000000000005" y2="210.13500000000002" stroke="#000" stroke-width="1.3"/>
<line x1="373.90000000000003" y1="210.13500000000002" x2="377.50000000000006" y2="210.13500000000002" stroke="#000" stroke-width="1.3"/>
<rect x="387.60" y="210.87" width="5.00" height="3.43" fill="#a8022b" stroke="#101828" stroke-opacity="0.5" stroke-width="0.8"/>
<line x1="390.1" y1="210.46820000000002" x2="390.1" y2="209.6352" stroke="#000" stroke-width="1.3"/>
<line x1="388.3" y1="209.6352" x2="391.90000000000003" y2="209.6352" stroke="#000" stroke-width="1.3"/>
<rect x="396.00" y="210.70" width="5.00" height="3.60" fill="#2f4e80" stroke="#101828" stroke-opacity="0.5" stroke-width="0.8"/>
<line x1="398.5" y1="210.3016" x2="398.5" y2="207.63600000000002" stroke="#000" stroke-width="1.3"/>
<line x1="396.7" y1="207.63600000000002" x2="400.3" y2="207.63600000000002" stroke="#000" stroke-width="1.3"/>
<rect x="404.60" y="210.12" width="5.00" height="4.18" fill="#6aa844" stroke="#101828" stroke-opacity="0.5" stroke-width="0.8"/>
<line x1="407.1" y1="209.7185" x2="407.1" y2="208.21910000000003" stroke="#000" stroke-width="1.3"/>
<line x1="405.3" y1="208.21910000000003" x2="408.90000000000003" y2="208.21910000000003" stroke="#000" stroke-width="1.3"/>
<rect x="419.30" y="147.23" width="5.00" height="67.07" fill="#a8022b" stroke="#101828" stroke-opacity="0.5" stroke-width="0.8"/>
<line x1="421.8" y1="146.827" x2="421.8" y2="141.41250000000002" stroke="#000" stroke-width="1.3"/>
<line x1="420.0" y1="141.41250000000002" x2="423.6" y2="141.41250000000002" stroke="#000" stroke-width="1.3"/>
<rect x="427.70" y="148.48" width="5.00" height="65.82" fill="#2f4e80" stroke="#101828" stroke-opacity="0.5" stroke-width="0.8"/>
<line x1="430.2" y1="148.0765" x2="430.2" y2="141.99560000000002" stroke="#000" stroke-width="1.3"/>
<line x1="428.4" y1="141.99560000000002" x2="432.0" y2="141.99560000000002" stroke="#000" stroke-width="1.3"/>
<rect x="436.30" y="151.23" width="5.00" height="63.07" fill="#6aa844" stroke="#101828" stroke-opacity="0.5" stroke-width="0.8"/>
<line x1="438.8" y1="150.8254" x2="438.8" y2="146.99360000000001" stroke="#000" stroke-width="1.3"/>
<line x1="437.0" y1="146.99360000000001" x2="440.6" y2="146.99360000000001" stroke="#000" stroke-width="1.3"/>
<rect x="450.1" y="213.9668" width="5.7999999999999545" height="0.33320000000000505" fill="#a8022b"/>
<line x1="453.0" y1="213.9668" x2="453.0" y2="211.9676" stroke="#000" stroke-width="1.3"/>
<line x1="451.2" y1="211.9676" x2="454.8" y2="211.9676" stroke="#000" stroke-width="1.3"/>
<rect x="458.5" y="213.80020000000002" width="5.7999999999999545" height="0.49979999999999336" fill="#2f4e80"/>
<line x1="461.4" y1="213.80020000000002" x2="461.4" y2="210.8014" stroke="#000" stroke-width="1.3"/>
<line x1="459.59999999999997" y1="210.8014" x2="463.2" y2="210.8014" stroke="#000" stroke-width="1.3"/>
<rect x="467.1" y="213.8835" width="5.7999999999999545" height="0.4165000000000134" fill="#6aa844"/>
<line x1="470.0" y1="213.8835" x2="470.0" y2="212.13420000000002" stroke="#000" stroke-width="1.3"/>
<line x1="468.2" y1="212.13420000000002" x2="471.8" y2="212.13420000000002" stroke="#000" stroke-width="1.3"/>
<text x="367.1" y="229.0" font-size="8.6" text-anchor="middle" fill="#000" stroke="#000" stroke-width="0.12">P1</text>
<text x="398.5" y="229.0" font-size="8.6" text-anchor="middle" fill="#000" stroke="#000" stroke-width="0.12">P2</text>
<text x="430.2" y="229.0" font-size="8.6" text-anchor="middle" fill="#000" stroke="#000" stroke-width="0.12">P3</text>
<text x="461.4" y="229.0" font-size="8.6" text-anchor="middle" fill="#000" stroke="#000" stroke-width="0.12">P4</text>
<text x="357.9" y="131.2" font-size="8.3" font-weight="bold" text-anchor="start" fill="#000">Erythrocyte: FL E14.5</text>
<text x="325.4" y="173.8" font-size="9.1" text-anchor="middle" fill="#000" transform="rotate(-90 325.4 173.8)" stroke="#000" stroke-width="0.25">% of live cells</text>
<text x="372.0" y="239.30" font-size="8.6" stroke="#000" stroke-width="0.12"><tspan font-weight="bold" stroke-width="0">P1</tspan> = CD71<tspan baseline-shift="3.0" font-size="5.8">+</tspan>/TER119<tspan baseline-shift="3.0" font-size="5.8">-</tspan></text>
<text x="372.0" y="249.20" font-size="8.6" stroke="#000" stroke-width="0.12"><tspan font-weight="bold" stroke-width="0">P2</tspan> = CD71<tspan baseline-shift="3.0" font-size="5.8">++</tspan>/TER119<tspan baseline-shift="3.0" font-size="5.8">-</tspan></text>
<text x="372.0" y="259.10" font-size="8.6" stroke="#000" stroke-width="0.12"><tspan font-weight="bold" stroke-width="0">P3</tspan> = CD71<tspan baseline-shift="3.0" font-size="5.8">++</tspan>/TER119<tspan baseline-shift="3.0" font-size="5.8">+</tspan></text>
<text x="372.0" y="269.00" font-size="8.6" stroke="#000" stroke-width="0.12"><tspan font-weight="bold" stroke-width="0">P4</tspan> = CD71<tspan baseline-shift="3.0" font-size="5.8">-</tspan>/TER119<tspan baseline-shift="3.0" font-size="5.8">+</tspan></text>
<line x1="45.8" y1="296.2" x2="45.8" y2="373.70000000000005" stroke="#000" stroke-width="1.2"/>
<line x1="42.599999999999994" y1="373.1" x2="45.8" y2="373.1" stroke="#000" stroke-width="1.0"/>
<text x="39.8" y="376.0" font-size="8.5" text-anchor="end" fill="#000" stroke="#000" stroke-width="0.12">0</text>
<line x1="42.599999999999994" y1="358.25" x2="45.8" y2="358.25" stroke="#000" stroke-width="1.0"/>
<text x="39.8" y="361.15" font-size="8.5" text-anchor="end" fill="#000" stroke="#000" stroke-width="0.12">20</text>
<line x1="42.599999999999994" y1="343.40000000000003" x2="45.8" y2="343.40000000000003" stroke="#000" stroke-width="1.0"/>
<text x="39.8" y="346.3" font-size="8.5" text-anchor="end" fill="#000" stroke="#000" stroke-width="0.12">40</text>
<line x1="42.599999999999994" y1="328.55" x2="45.8" y2="328.55" stroke="#000" stroke-width="1.0"/>
<text x="39.8" y="331.45" font-size="8.5" text-anchor="end" fill="#000" stroke="#000" stroke-width="0.12">60</text>
<line x1="42.599999999999994" y1="313.70000000000005" x2="45.8" y2="313.70000000000005" stroke="#000" stroke-width="1.0"/>
<text x="39.8" y="316.6" font-size="8.5" text-anchor="end" fill="#000" stroke="#000" stroke-width="0.12">80</text>
<line x1="42.599999999999994" y1="298.85" x2="45.8" y2="298.85" stroke="#000" stroke-width="1.0"/>
<text x="39.8" y="301.75" font-size="8.5" text-anchor="end" fill="#000" stroke="#000" stroke-width="0.12">100</text>
<line x1="45.199999999999996" y1="373.1" x2="120.4" y2="373.1" stroke="#000" stroke-width="1.2"/>
<rect x="50.40" y="323.31" width="15.70" height="49.79" fill="#a8022b" stroke="#101828" stroke-opacity="0.5" stroke-width="0.8"/>
<line x1="58.25" y1="322.90700000000004" x2="58.25" y2="320.0855" stroke="#000" stroke-width="1.3"/>
<line x1="54.125" y1="320.0855" x2="62.375" y2="320.0855" stroke="#000" stroke-width="1.3"/>
<rect x="75.40" y="321.97" width="15.50" height="51.13" fill="#2f4e80" stroke="#101828" stroke-opacity="0.5" stroke-width="0.8"/>
<line x1="83.15" y1="321.57050000000004" x2="83.15" y2="315.3335" stroke="#000" stroke-width="1.3"/>
<line x1="79.075" y1="315.3335" x2="87.22500000000001" y2="315.3335" stroke="#000" stroke-width="1.3"/>
<rect x="100.40" y="320.19" width="15.40" height="52.91" fill="#6aa844" stroke="#101828" stroke-opacity="0.5" stroke-width="0.8"/>
<line x1="108.1" y1="319.7885" x2="108.1" y2="311.84375" stroke="#000" stroke-width="1.3"/>
<line x1="104.05" y1="311.84375" x2="112.14999999999999" y2="311.84375" stroke="#000" stroke-width="1.3"/>
<text x="84" y="384.0" font-size="8.4" text-anchor="middle" fill="#000" stroke="#000" stroke-width="0.12">MP</text>
<text x="51.8" y="299.3" font-size="8.5" font-weight="bold" text-anchor="start" fill="#000">MP: FL E14.5</text>
<text x="20.3" y="335.8" font-size="9.1" text-anchor="middle" fill="#000" transform="rotate(-90 20.3 335.8)" stroke="#000" stroke-width="0.25">% of Lin- cells</text>
<line x1="155.6" y1="296.2" x2="155.6" y2="373.70000000000005" stroke="#000" stroke-width="1.2"/>
<line x1="152.4" y1="373.1" x2="155.6" y2="373.1" stroke="#000" stroke-width="1.0"/>
<text x="149.0" y="376.0" font-size="8.5" text-anchor="end" fill="#000" stroke="#000" stroke-width="0.12">0</text>
<line x1="152.4" y1="354.5" x2="155.6" y2="354.5" stroke="#000" stroke-width="1.0"/>
<text x="149.0" y="357.4" font-size="8.5" text-anchor="end" fill="#000" stroke="#000" stroke-width="0.12">2</text>
<line x1="152.4" y1="335.90000000000003" x2="155.6" y2="335.90000000000003" stroke="#000" stroke-width="1.0"/>
<text x="149.0" y="338.8" font-size="8.5" text-anchor="end" fill="#000" stroke="#000" stroke-width="0.12">4</text>
<line x1="152.4" y1="317.3" x2="155.6" y2="317.3" stroke="#000" stroke-width="1.0"/>
<text x="149.0" y="320.2" font-size="8.5" text-anchor="end" fill="#000" stroke="#000" stroke-width="0.12">6</text>
<line x1="152.4" y1="298.70000000000005" x2="155.6" y2="298.70000000000005" stroke="#000" stroke-width="1.0"/>
<text x="149.0" y="301.6" font-size="8.5" text-anchor="end" fill="#000" stroke="#000" stroke-width="0.12">8</text>
<line x1="155.0" y1="373.1" x2="230.4" y2="373.1" stroke="#000" stroke-width="1.2"/>
<rect x="160.10" y="335.46" width="15.70" height="37.64" fill="#a8022b" stroke="#101828" stroke-opacity="0.5" stroke-width="0.8"/>
<line x1="167.95" y1="335.06300000000005" x2="167.95" y2="312.278" stroke="#000" stroke-width="1.3"/>
<line x1="163.825" y1="312.278" x2="172.075" y2="312.278" stroke="#000" stroke-width="1.3"/>
<rect x="184.90" y="340.95" width="15.60" height="32.15" fill="#2f4e80" stroke="#101828" stroke-opacity="0.5" stroke-width="0.8"/>
<line x1="192.7" y1="340.55" x2="192.7" y2="333.389" stroke="#000" stroke-width="1.3"/>
<line x1="188.6" y1="333.389" x2="196.79999999999998" y2="333.389" stroke="#000" stroke-width="1.3"/>
<rect x="209.90" y="341.88" width="15.50" height="31.22" fill="#6aa844" stroke="#101828" stroke-opacity="0.5" stroke-width="0.8"/>
<line x1="217.65" y1="341.48" x2="217.65" y2="330.32000000000005" stroke="#000" stroke-width="1.3"/>
<line x1="213.575" y1="330.32000000000005" x2="221.72500000000002" y2="330.32000000000005" stroke="#000" stroke-width="1.3"/>
<text x="193.1" y="384.0" font-size="8.4" text-anchor="middle" fill="#000" stroke="#000" stroke-width="0.12">LSK</text>
<text x="162.5" y="299.3" font-size="8.5" font-weight="bold" text-anchor="start" fill="#000">LSK: FL E14.5</text>
<text x="140.3" y="335.5" font-size="9.1" text-anchor="middle" fill="#000" transform="rotate(-90 140.3 335.5)" stroke="#000" stroke-width="0.25">% of Lin- cells</text>
<line x1="270.4" y1="296.2" x2="270.4" y2="373.70000000000005" stroke="#000" stroke-width="1.2"/>
<line x1="267.2" y1="373.1" x2="270.4" y2="373.1" stroke="#000" stroke-width="1.0"/>
<text x="264.1" y="376.0" font-size="8.5" text-anchor="end" fill="#000" stroke="#000" stroke-width="0.12">0</text>
<line x1="267.2" y1="354.5" x2="270.4" y2="354.5" stroke="#000" stroke-width="1.0"/>
<text x="264.1" y="357.4" font-size="8.5" text-anchor="end" fill="#000" stroke="#000" stroke-width="0.12">5</text>
<line x1="267.2" y1="335.90000000000003" x2="270.4" y2="335.90000000000003" stroke="#000" stroke-width="1.0"/>
<text x="264.1" y="338.8" font-size="8.5" text-anchor="end" fill="#000" stroke="#000" stroke-width="0.12">10</text>
<line x1="267.2" y1="317.3" x2="270.4" y2="317.3" stroke="#000" stroke-width="1.0"/>
<text x="264.1" y="320.2" font-size="8.5" text-anchor="end" fill="#000" stroke="#000" stroke-width="0.12">15</text>
<line x1="267.2" y1="298.70000000000005" x2="270.4" y2="298.70000000000005" stroke="#000" stroke-width="1.0"/>
<text x="264.1" y="301.6" font-size="8.5" text-anchor="end" fill="#000" stroke="#000" stroke-width="0.12">20</text>
<line x1="269.79999999999995" y1="373.1" x2="345.5" y2="373.1" stroke="#000" stroke-width="1.2"/>
<rect x="275.30" y="319.60" width="15.40" height="53.50" fill="#a8022b" stroke="#101828" stroke-opacity="0.5" stroke-width="0.8"/>
<line x1="283.0" y1="319.1972" x2="283.0" y2="306.2144" stroke="#000" stroke-width="1.3"/>
<line x1="278.95" y1="306.2144" x2="287.05" y2="306.2144" stroke="#000" stroke-width="1.3"/>
<rect x="299.90" y="324.92" width="15.40" height="48.18" fill="#2f4e80" stroke="#101828" stroke-opacity="0.5" stroke-width="0.8"/>
<line x1="307.6" y1="324.5168" x2="307.6" y2="320.09000000000003" stroke="#000" stroke-width="1.3"/>
<line x1="303.55" y1="320.09000000000003" x2="311.65000000000003" y2="320.09000000000003" stroke="#000" stroke-width="1.3"/>
<rect x="325.30" y="323.09" width="15.40" height="50.01" fill="#6aa844" stroke="#101828" stroke-opacity="0.5" stroke-width="0.8"/>
<line x1="333.0" y1="322.694" x2="333.0" y2="314.51" stroke="#000" stroke-width="1.3"/>
<line x1="328.95" y1="314.51" x2="337.05" y2="314.51" stroke="#000" stroke-width="1.3"/>
<text x="306.6" y="384.0" font-size="8.2" text-anchor="middle" fill="#000" stroke="#000" stroke-width="0.12">CD150+/CD48-</text>
<text x="276.5" y="299.3" font-size="8.5" font-weight="bold" text-anchor="start" fill="#000">HSC: FL E14.5</text>
<text x="249" y="335.6" font-size="9.1" text-anchor="middle" fill="#000" transform="rotate(-90 249 335.6)" stroke="#000" stroke-width="0.25">% of LSKs</text>
<rect x="353.7" y="327.4" width="10.9" height="6" fill="#a8022b"/>
<text x="368.6" y="333.4" font-size="8.0" font-style="italic" text-anchor="start" fill="#000" stroke="#000" stroke-width="0.15">Vav1-cre; Mof<tspan font-size="6"> </tspan><tspan baseline-shift="3" font-size="5">f/f</tspan></text>
<rect x="353.7" y="337.59999999999997" width="10.9" height="6" fill="#2f4e80"/>
<text x="368.6" y="343.59999999999997" font-size="8.0" font-style="italic" text-anchor="start" fill="#000" stroke="#000" stroke-width="0.15">Vav1-cre; Mof<tspan font-size="6"> </tspan><tspan baseline-shift="3" font-size="5">f/+</tspan></text>
<rect x="353.7" y="347.79999999999995" width="10.9" height="6" fill="#6aa844"/>
<text x="368.6" y="353.79999999999995" font-size="8.0" font-style="italic" text-anchor="start" fill="#000" stroke="#000" stroke-width="0.15">Mof<tspan font-size="6"> </tspan><tspan baseline-shift="3" font-size="5">f/f</tspan></text>
</svg>
</body></html>
